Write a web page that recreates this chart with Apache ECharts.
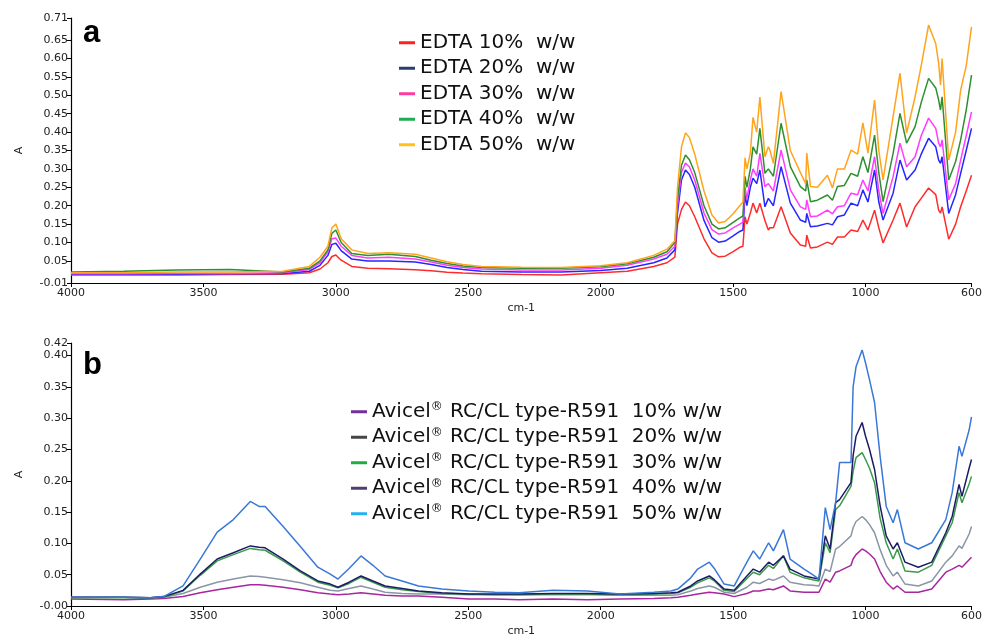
<!DOCTYPE html>
<html>
<head>
<meta charset="utf-8">
<script src="https://cdn.jsdelivr.net/npm/echarts@6/dist/echarts.min.js"></script>
<style>html,body{margin:0;padding:0;background:#fff}#c{width:985px;height:638px}</style>
</head>
<body>
<div id="c"></div>
<script>
// ---------- Panel a: EDTA ----------
const wnA = [4000,3800,3600,3400,3200,3100,3060,3030,3015,3000,2980,2940,2880,2800,2700,2640,2580,2520,2450,2300,2150,2000,1900,1800,1750,1720,1710,1695,1680,1665,1645,1610,1580,1555,1530,1500,1475,1463,1455,1448,1435,1425,1411,1399,1380,1367,1361,1348,1319,1284,1246,1226,1222,1208,1182,1144,1125,1106,1080,1055,1030,1010,991,966,950,934,896,870,845,813,790,762,735,724,717,711,686,660,641,620,600];
const edta10 = [0.012,0.012,0.012,0.013,0.014,0.018,0.028,0.045,0.062,0.066,0.052,0.035,0.03,0.029,0.026,0.023,0.019,0.017,0.015,0.013,0.012,0.018,0.022,0.035,0.045,0.06,0.15,0.19,0.21,0.2,0.17,0.11,0.072,0.061,0.063,0.075,0.087,0.09,0.17,0.15,0.18,0.207,0.18,0.207,0.16,0.134,0.14,0.14,0.197,0.126,0.093,0.09,0.12,0.085,0.088,0.101,0.095,0.115,0.115,0.134,0.13,0.161,0.134,0.188,0.14,0.099,0.161,0.207,0.142,0.197,0.22,0.248,0.23,0.188,0.18,0.197,0.109,0.15,0.197,0.24,0.283];
const edta20 = [0.014,0.014,0.014,0.015,0.016,0.022,0.038,0.065,0.095,0.098,0.078,0.055,0.05,0.05,0.047,0.04,0.032,0.027,0.022,0.02,0.02,0.024,0.03,0.045,0.058,0.08,0.18,0.27,0.297,0.285,0.25,0.16,0.113,0.101,0.104,0.118,0.13,0.134,0.23,0.2,0.25,0.275,0.26,0.297,0.197,0.22,0.215,0.2,0.306,0.207,0.161,0.155,0.179,0.143,0.145,0.152,0.148,0.17,0.175,0.207,0.2,0.243,0.21,0.297,0.21,0.161,0.234,0.324,0.27,0.297,0.34,0.383,0.36,0.324,0.315,0.333,0.179,0.23,0.288,0.35,0.41];
const edta30 = [0.015,0.015,0.016,0.016,0.018,0.027,0.045,0.075,0.11,0.112,0.09,0.065,0.058,0.06,0.055,0.047,0.038,0.032,0.028,0.025,0.025,0.03,0.038,0.055,0.068,0.09,0.2,0.29,0.316,0.305,0.27,0.18,0.135,0.123,0.126,0.14,0.15,0.155,0.25,0.22,0.27,0.3,0.28,0.342,0.252,0.26,0.255,0.24,0.351,0.243,0.197,0.19,0.216,0.17,0.172,0.188,0.178,0.197,0.2,0.234,0.23,0.27,0.24,0.333,0.24,0.179,0.279,0.37,0.306,0.333,0.39,0.438,0.41,0.37,0.36,0.379,0.216,0.26,0.324,0.39,0.455];
const edta40 = [0.02,0.022,0.025,0.027,0.02,0.03,0.05,0.08,0.125,0.134,0.1,0.07,0.065,0.068,0.062,0.052,0.043,0.036,0.032,0.03,0.03,0.034,0.042,0.06,0.075,0.1,0.22,0.31,0.338,0.325,0.29,0.2,0.15,0.137,0.14,0.155,0.167,0.172,0.28,0.25,0.3,0.36,0.34,0.41,0.288,0.3,0.295,0.28,0.424,0.306,0.252,0.24,0.27,0.211,0.215,0.229,0.215,0.252,0.255,0.288,0.28,0.333,0.29,0.392,0.29,0.211,0.342,0.451,0.37,0.415,0.48,0.546,0.52,0.487,0.46,0.496,0.27,0.32,0.379,0.46,0.555];
const edta50 = [0.018,0.018,0.02,0.02,0.022,0.035,0.06,0.09,0.14,0.15,0.11,0.08,0.07,0.072,0.068,0.058,0.048,0.04,0.035,0.033,0.032,0.037,0.045,0.065,0.082,0.105,0.25,0.36,0.398,0.385,0.34,0.24,0.175,0.153,0.157,0.178,0.2,0.21,0.33,0.3,0.343,0.44,0.4,0.495,0.333,0.36,0.35,0.315,0.51,0.35,0.29,0.26,0.343,0.252,0.25,0.283,0.248,0.3,0.3,0.351,0.34,0.425,0.343,0.487,0.35,0.27,0.442,0.56,0.397,0.496,0.58,0.691,0.64,0.587,0.528,0.6,0.324,0.4,0.514,0.58,0.686];
const namesA = ['EDTA 10%  w/w','EDTA 20%  w/w','EDTA 30%  w/w','EDTA 40%  w/w','EDTA 50%  w/w'];

// ---------- Panel b: Avicel ----------
const wnB = [4000,3800,3700,3650,3577,3512,3448,3387,3323,3290,3267,3199,3134,3068,3021,2992,2950,2905,2860,2814,2750,2688,2600,2498,2400,2308,2180,2050,1928,1800,1735,1709,1660,1634,1590,1571,1534,1496,1448,1424,1400,1366,1348,1310,1285,1232,1200,1176,1152,1134,1113,1098,1055,1047,1036,1013,1000,985,966,945,922,896,880,851,801,750,697,673,647,636,609,600];
const avi10 = [0.011,0.010,0.011,0.012,0.015,0.021,0.026,0.03,0.034,0.034,0.033,0.03,0.026,0.021,0.019,0.018,0.019,0.021,0.019,0.017,0.016,0.016,0.014,0.011,0.011,0.01,0.011,0.01,0.011,0.012,0.013,0.014,0.017,0.019,0.022,0.021,0.019,0.015,0.02,0.024,0.024,0.027,0.026,0.032,0.024,0.022,0.022,0.022,0.043,0.038,0.054,0.056,0.065,0.075,0.082,0.091,0.088,0.083,0.075,0.055,0.038,0.027,0.032,0.022,0.022,0.027,0.054,0.059,0.065,0.062,0.074,0.078];
const avi20 = [0.014,0.014,0.013,0.014,0.02,0.03,0.038,0.043,0.048,0.047,0.046,0.042,0.037,0.03,0.025,0.024,0.028,0.032,0.027,0.022,0.02,0.019,0.019,0.018,0.018,0.018,0.018,0.018,0.017,0.017,0.017,0.018,0.024,0.028,0.032,0.03,0.022,0.02,0.03,0.038,0.036,0.043,0.041,0.048,0.038,0.034,0.033,0.032,0.059,0.055,0.091,0.095,0.112,0.125,0.135,0.143,0.138,0.13,0.117,0.09,0.065,0.048,0.054,0.035,0.032,0.04,0.07,0.08,0.096,0.092,0.115,0.127];
const avi30 = [0.013,0.013,0.013,0.014,0.024,0.049,0.072,0.082,0.092,0.09,0.089,0.072,0.054,0.038,0.033,0.029,0.036,0.046,0.038,0.03,0.026,0.023,0.02,0.019,0.018,0.018,0.019,0.019,0.018,0.019,0.02,0.021,0.03,0.037,0.045,0.04,0.025,0.023,0.044,0.054,0.05,0.065,0.06,0.08,0.054,0.045,0.042,0.04,0.101,0.085,0.154,0.16,0.191,0.215,0.237,0.245,0.234,0.22,0.197,0.14,0.101,0.075,0.091,0.056,0.054,0.065,0.112,0.133,0.181,0.165,0.195,0.207];
const avi40 = [0.014,0.014,0.013,0.015,0.025,0.051,0.075,0.085,0.096,0.094,0.093,0.075,0.056,0.04,0.035,0.03,0.038,0.048,0.04,0.032,0.028,0.024,0.021,0.019,0.019,0.019,0.02,0.02,0.019,0.02,0.021,0.022,0.032,0.04,0.048,0.042,0.027,0.025,0.048,0.059,0.054,0.07,0.065,0.08,0.059,0.048,0.045,0.043,0.112,0.091,0.165,0.17,0.197,0.24,0.271,0.293,0.271,0.25,0.218,0.16,0.112,0.091,0.101,0.07,0.062,0.07,0.117,0.143,0.194,0.175,0.22,0.234];
const avi50 = [0.014,0.014,0.013,0.015,0.032,0.075,0.118,0.138,0.167,0.159,0.159,0.127,0.095,0.062,0.051,0.043,0.06,0.08,0.065,0.048,0.04,0.032,0.027,0.024,0.022,0.021,0.025,0.024,0.019,0.022,0.024,0.027,0.045,0.059,0.07,0.06,0.035,0.032,0.07,0.088,0.075,0.101,0.088,0.122,0.075,0.059,0.05,0.043,0.157,0.122,0.165,0.229,0.229,0.35,0.382,0.409,0.388,0.361,0.325,0.239,0.159,0.133,0.154,0.101,0.091,0.101,0.138,0.181,0.255,0.239,0.281,0.302];
const namesB = ['Avicel® RC/CL type-R591  10% w/w','Avicel® RC/CL type-R591  20% w/w','Avicel® RC/CL type-R591  30% w/w','Avicel® RC/CL type-R591  40% w/w','Avicel® RC/CL type-R591  50% w/w'];

// tick labels
const xTicks = [4000,3500,3000,2500,2000,1500,1000,600];
const yTicksA = [-0.01,0.05,0.10,0.15,0.20,0.25,0.30,0.35,0.40,0.45,0.50,0.55,0.60,0.65,0.71];
const yTicksB = [0,0.05,0.10,0.15,0.20,0.25,0.30,0.35,0.40,0.42];

const colorsA = ['#ff2b2b','#2626ff','#ff3cff','#2e8f2e','#ffa41c'];
const legendColorsA = ['#ff2020','#2a3f6f','#ff3aa0','#22aa55','#ffc020'];
const colorsB = ['#a8269f','#8a96a6','#3a9a4a','#1c1c66','#3a78d8'];
const legendColorsB = ['#7030a0','#454545','#22aa44','#504070','#22b0f0'];

const FONT = 'DejaVu Sans';
const zip = (xs, ys) => xs.map((x, i) => [x, ys[i]]);

function xAxis(gi) {
  return {
    type: 'value', gridIndex: gi, min: 600, max: 4000, inverse: true,
    name: 'cm-1', nameLocation: 'middle', nameGap: 20,
    nameTextStyle: { fontFamily: FONT, fontSize: 11, color: '#222' },
    axisLine: { show: true, onZero: false, lineStyle: { color: '#000', width: 1.2 } },
    axisTick: { show: true, length: 4, customValues: xTicks, lineStyle: { color: '#000' } },
    axisLabel: { customValues: xTicks, formatter: v => String(Math.round(v)), fontFamily: FONT, fontSize: 11, color: '#222', margin: 5 },
    splitLine: { show: false }
  };
}
function yAxis(gi, min, max, ticks, fmt) {
  return {
    type: 'value', gridIndex: gi, min: min, max: max,
    name: 'A', nameLocation: 'middle', nameGap: 46, nameRotate: 90,
    nameTextStyle: { fontFamily: FONT, fontSize: 11, color: '#222' },
    axisLine: { show: true, lineStyle: { color: '#000', width: 1.2 } },
    axisTick: { show: true, length: 4, customValues: ticks, lineStyle: { color: '#000' } },
    axisLabel: { customValues: ticks, formatter: fmt, fontFamily: FONT, fontSize: 11, color: '#222', margin: 3 },
    splitLine: { show: false }
  };
}

const seriesA = [edta10, edta20, edta30, edta40, edta50].map((ys, i) => ({
  name: namesA[i], type: 'line', xAxisIndex: 0, yAxisIndex: 0, data: zip(wnA, ys),
  showSymbol: false, lineStyle: { color: colorsA[i], width: 1.5 }, itemStyle: { color: colorsA[i] },
  z: 2 + i
}));
const seriesB = [avi10, avi20, avi30, avi40, avi50].map((ys, i) => ({
  name: namesB[i], type: 'line', xAxisIndex: 1, yAxisIndex: 1, data: zip(wnB, ys),
  showSymbol: false, lineStyle: { color: colorsB[i], width: 1.5 }, itemStyle: { color: colorsB[i] },
  z: 2 + i
}));

const legendText = { fontFamily: FONT, fontSize: 20, color: '#111', lineHeight: 25.5,
  rich: { sup: { fontFamily: FONT, fontSize: 12, lineHeight: 25.5, verticalAlign: 'top', color: '#111', padding: [2, 1, 0, 0] } } };

const option = {
  animation: false,
  backgroundColor: '#fff',
  grid: [
    { left: 71, top: 18, width: 901, height: 265 },
    { left: 71, top: 343, width: 901, height: 264 }
  ],
  xAxis: [xAxis(0), xAxis(1)],
  yAxis: [
    yAxis(0, -0.01, 0.71, yTicksA, v => v.toFixed(2)),
    yAxis(1, 0, 0.42, yTicksB, v => (Math.abs(v) < 1e-9 ? '-0.00' : v.toFixed(2)))
  ],
  legend: [
    { orient: 'vertical', left: 399, top: 30, padding: 0, itemGap: 0, itemWidth: 16, itemHeight: 3, icon: 'rect',
      data: namesA.map((n, i) => ({ name: n, itemStyle: { color: legendColorsA[i] } })),
      textStyle: legendText, selectedMode: false },
    { orient: 'vertical', left: 351, top: 399, padding: 0, itemGap: 0, itemWidth: 16, itemHeight: 3, icon: 'rect',
      data: namesB.map((n, i) => ({ name: n, itemStyle: { color: legendColorsB[i] } })),
      formatter: n => n.replace('®', '{sup|®}'),
      textStyle: legendText, selectedMode: false }
  ],
  graphic: [
    { type: 'text', left: 83, top: 18, style: { text: 'a', font: 'bold 31px "Liberation Sans"', fill: '#000' } },
    { type: 'text', left: 83, top: 350, style: { text: 'b', font: 'bold 31px "Liberation Sans"', fill: '#000' } }
  ],
  series: seriesA.concat(seriesB)
};

const chart = echarts.init(document.getElementById('c'), null, { renderer: 'canvas' });
chart.setOption(option);
</script>
</body>
</html>
